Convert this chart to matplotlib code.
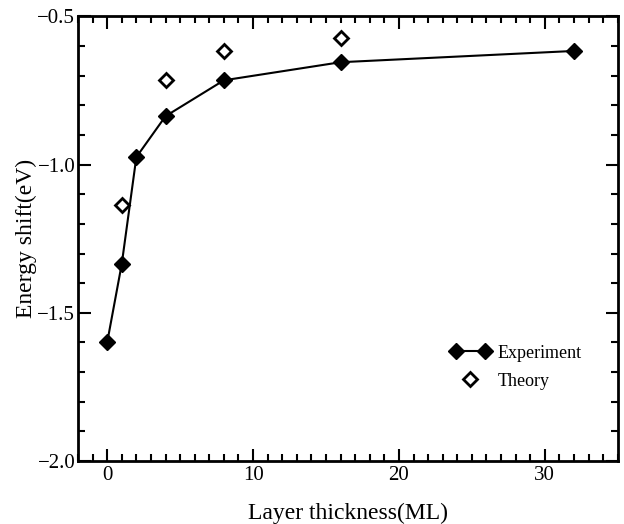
import matplotlib
matplotlib.use("Agg")
import matplotlib.pyplot as plt
from matplotlib.ticker import MultipleLocator
from matplotlib.lines import Line2D
from matplotlib.legend_handler import HandlerLine2D

plt.rcParams['font.family'] = ['Liberation Serif', 'DejaVu Serif']

# valores
exp_x = [0, 1, 2, 4, 8, 16, 32]
exp_y = [-1.60, -1.335, -0.975, -0.837, -0.716, -0.655, -0.617]
teo_x = [1, 4, 8, 16]
teo_y = [-1.135, -0.716, -0.616, -0.575]

fig = plt.figure(figsize=(6.24, 5.24), dpi=100)
ax = fig.add_axes([0.125, 0.120, 0.865, 0.849])

ax.plot(exp_x, exp_y, color='black', lw=1.5, marker='D', ms=8,
        mfc='black', mec='black')
ax.plot(teo_x, teo_y, ls='none', marker='D', ms=7, mfc='white',
        mec='black', mew=2)

ax.set_xlim(-2, 35)
ax.set_ylim(-2.0, -0.5)
ax.xaxis.set_major_locator(MultipleLocator(10))
ax.xaxis.set_minor_locator(MultipleLocator(1))
ax.yaxis.set_major_locator(MultipleLocator(0.5))
ax.yaxis.set_minor_locator(MultipleLocator(0.1))
ax.yaxis.set_major_formatter(plt.FuncFormatter(lambda v, p: f"{v:.1f}".replace('-', '\u2212')))
ax.tick_params(which='both', direction='in', top=True, right=True, width=1.5,
               labelsize=15)
ax.tick_params(which='major', length=9)
ax.tick_params(which='minor', length=5)
ax.tick_params(axis='y', which='major', pad=2)
for s in ax.spines.values():
    s.set_linewidth(2)

ax.set_xlabel('Layer thickness(ML)', fontsize=17, labelpad=12.5)
ax.set_ylabel('Energy shift(eV)', fontsize=17, labelpad=0)

handles = [
    Line2D([], [], color='black', lw=1.5, marker='D', ms=8, mfc='black'),
    Line2D([], [], ls='none', marker='D', ms=7, mfc='white', mec='black', mew=2),
]
ax.legend(handles, ['Experiment', 'Theory'], loc='upper left',
          bbox_to_anchor=(0.66, 0.298), frameon=False, fontsize=13,
          numpoints=2, handlelength=2.2, handletextpad=0.4, labelspacing=0.6,
          handler_map={handles[1]: HandlerLine2D(numpoints=1)})

fig.savefig('out.png', dpi=100)
